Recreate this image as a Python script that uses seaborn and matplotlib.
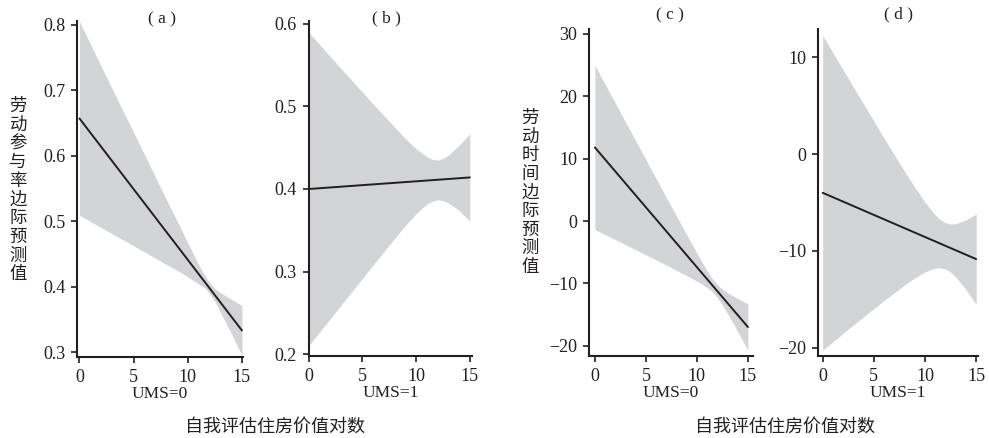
import numpy as np
import pandas as pd
import matplotlib
matplotlib.use("Agg")
import matplotlib.pyplot as plt
import seaborn as sns

sns.set_style("ticks")
plt.rcParams['font.family'] = ['Liberation Serif', 'Noto Sans CJK SC', 'DejaVu Sans']

# ---------------- data ----------------
line_x = [0, 15]
band_x = [0, 3, 6, 8, 9, 10, 11, 11.5, 12, 12.5, 13, 14, 15]

# (a) labour participation, UMS=0
a_line = [0.657, 0.333]
a_upper = [0.805, 0.703, 0.602, 0.534, 0.501, 0.467, 0.434, 0.419, 0.406, 0.397, 0.391, 0.381, 0.371]
a_lower = [0.509, 0.481, 0.453, 0.434, 0.425, 0.415, 0.404, 0.399, 0.390, 0.377, 0.361, 0.329, 0.295]

# (b) labour participation, UMS=1
b_line = [0.400, 0.414]
b_upper = [0.590, 0.546, 0.503, 0.475, 0.461, 0.449, 0.439, 0.436, 0.435, 0.437, 0.441, 0.453, 0.467]
b_lower = [0.210, 0.259, 0.308, 0.340, 0.356, 0.370, 0.382, 0.385, 0.387, 0.386, 0.383, 0.374, 0.361]

# (c) labour time, UMS=0
c_line = [11.8, -17.0]
c_upper = [24.97, 15.88, 6.81, 0.79, -2.21, -5.16, -7.98, -9.23, -10.22, -10.93, -11.49, -12.43, -13.3]
c_lower = [-1.37, -3.80, -6.25, -7.91, -8.75, -9.64, -10.66, -11.33, -12.27, -13.47, -14.83, -17.73, -20.7]

# (d) labour time, UMS=1
d_line = [-4.0, -10.85]
d_upper = [12.25, 6.92, 1.64, -1.79, -3.43, -4.97, -6.28, -6.77, -7.08, -7.22, -7.19, -6.80, -6.18]
d_lower = [-20.25, -17.66, -15.12, -13.53, -12.79, -12.17, -11.78, -11.75, -11.88, -12.20, -12.69, -14.0, -15.54]

titles = ["( a )", "( b )", "( c )", "( d )"]
sub_xlabels = ["UMS=0", "UMS=1", "UMS=0", "UMS=1"]
x_ticks = [0, 5, 10, 15]
a_yticks = [0.3, 0.4, 0.5, 0.6, 0.7, 0.8]
b_yticks = [0.2, 0.3, 0.4, 0.5, 0.6]
c_yticks = [-20, -10, 0, 10, 20, 30]
d_yticks = [-20, -10, 0, 10]
ylabel_left = "劳动参与率边际预测值"
ylabel_right = "劳动时间边际预测值"
xlabel_common = "自我评估住房价值对数"

# ---------------- figure ----------------
W, H = 989, 438
fig = plt.figure(figsize=(W / 100, H / 100), dpi=100)

def px_axes(l, r, t, b):
    return fig.add_axes([l / W, 1 - b / H, (r - l) / W, (b - t) / H])

panels = [
    dict(box=(77.3, 243, 21, 357), xlim=(-0.2, 15.1), ylim=(0.2924, 0.806),
         line=a_line, up=a_upper, lo=a_lower, yt=a_yticks, fmt="{:.1f}"),
    dict(box=(308.7, 472, 21, 356), xlim=(0.0, 15.2), ylim=(0.1976, 0.6036),
         line=b_line, up=b_upper, lo=b_lower, yt=b_yticks, fmt="{:.1f}"),
    dict(box=(589.3, 753, 29.3, 356), xlim=(-0.55, 15.5), ylim=(-21.65, 30.75),
         line=c_line, up=c_upper, lo=c_lower, yt=c_yticks, fmt="{:d}"),
    dict(box=(818.3, 977.7, 29.3, 356), xlim=(-0.43, 15.15), ylim=(-20.86, 12.89),
         line=d_line, up=d_upper, lo=d_lower, yt=d_yticks, fmt="{:d}"),
]

band_color = "#d3d4d6"
line_color = "#231f20"

for i, p in enumerate(panels):
    ax = px_axes(*p["box"])
    ax.fill_between(band_x, p["lo"], p["up"], color=band_color, lw=0, zorder=1)
    df = pd.DataFrame({"x": line_x, "y": p["line"]})
    sns.lineplot(data=df, x="x", y="y", ax=ax, color=line_color, lw=1.4, zorder=3)
    ax.set_xlim(*p["xlim"])
    ax.set_ylim(*p["ylim"])
    ax.set_xticks(x_ticks)
    ax.set_xticklabels([str(t) for t in x_ticks])
    ax.set_yticks(p["yt"])
    ax.set_yticklabels([p["fmt"].format(t).replace("-", "\u2212") for t in p["yt"]])
    for s in ["top", "right"]:
        ax.spines[s].set_visible(False)
    for s in ["left", "bottom"]:
        ax.spines[s].set_linewidth(1.5)
        ax.spines[s].set_color("#231f20")
    ax.tick_params(axis="both", direction="out", length=4.5, width=1.2,
                   colors="#231f20", labelsize=13, pad=4)
    ax.set_xlabel(sub_xlabels[i], fontsize=12.5, labelpad=0, color="#231f20")
    ax.set_ylabel("")

# titles
for (tx, ty), t in zip([(162, 19), (386, 18), (670, 15), (898, 14)], titles):
    fig.text(tx / W, 1 - ty / H, t, ha="center", va="center", fontsize=12.5, color="#231f20")

# stacked vertical y labels
def vlabel(text, xc, y0, step):
    for k, ch in enumerate(text):
        fig.text(xc / W, 1 - (y0 + k * step) / H, ch, ha="center", va="center",
                 fontsize=12.5, color="#231f20", family=["Noto Sans CJK SC"])

vlabel(ylabel_left, 18, 106, 18.7)
vlabel(ylabel_right, 530, 118, 18.6)

# shared x labels
for xc in (275, 785):
    fig.text(xc / W, 1 - 427 / H, xlabel_common, ha="center", va="center",
             fontsize=13, color="#231f20", family=["Noto Sans CJK SC"])

fig.savefig("out.png", dpi=100)
